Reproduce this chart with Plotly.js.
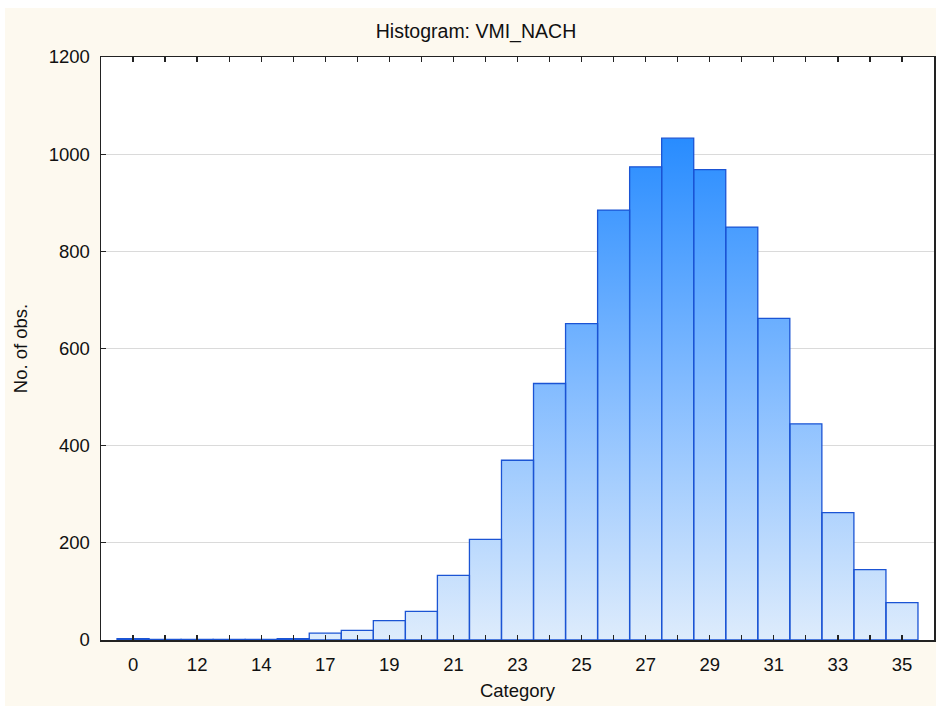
<!DOCTYPE html>
<html>
<head>
<meta charset="utf-8">
<script src="https://cdn.plot.ly/plotly-3.0.1.min.js"></script>
<style>html,body{margin:0;padding:0;background:#fff;}#chart{width:936px;height:706px;}</style>
</head>
<body>
<div id="chart"></div>
<script>
// Categories (bins) of VMI_NACH, in plotted order
const categories = ['0','11','12','13','14','16','17','18','19','20','21','22','23','24','25','26','27','28','29','30','31','32','33','34','35'];
// No. of observations in each category
const counts = [3,1,1,1,1,3,14,20,40,59,133,207,370,528,651,885,974,1033,968,850,662,445,262,145,77];
// Tick labels shown under the axis (every other category)
const tickLabels = categories.map((c, i) => (i % 2 === 0 ? c : ''));
const yTicks = [0,200,400,600,800,1000,1200];

const idx = categories.map((_, i) => i);

// step outline (bin edges) used only to paint the vertical gradient fill
const stepX = idx.map(i => i - 0.5).concat([categories.length - 0.5]);
const stepY = counts.concat([counts[counts.length - 1]]);
const maxCount = Math.max(...counts);

const fillTrace = {
  type: 'scatter', mode: 'lines',
  x: stepX, y: stepY,
  line: {shape: 'hv', width: 0, color: 'rgba(0,0,0,0)'},
  fill: 'tozeroy',
  fillcolor: '#8cc2ff',
  fillgradient: {
    type: 'vertical',
    colorscale: [[0, 'rgb(222,236,252)'], [0.5, 'rgb(132,188,255)'], [1, 'rgb(40,140,255)']],
    start: 0, stop: maxCount
  },
  hoverinfo: 'skip', showlegend: false,
  xaxis: 'x', yaxis: 'y'
};

const barTrace = {
  type: 'bar',
  x: idx, y: counts,
  width: 1,
  textposition: 'none',
  customdata: categories,
  marker: {color: 'rgba(0,0,0,0)', line: {color: '#1b54d4', width: 1.3}},
  hovertemplate: '%{customdata}: %{y}<extra></extra>',
  showlegend: false,
  xaxis: 'x2', yaxis: 'y2'
};

const xRange = [-1, categories.length];
const yRange = [0, 1200];
const font = {family: '"Liberation Sans", Arial, sans-serif', size: 18.5, color: '#111'};

const plotW = 936 - 101 - 2, plotH = 706 - 57 - 66;

const layout = {
  width: 936, height: 706, autosize: false,
  paper_bgcolor: '#fdf9ef', plot_bgcolor: '#ffffff',
  margin: {l: 101, r: 2, t: 57, b: 66, pad: 0},
  font: font,
  showlegend: false,
  bargap: 0,
  title: {text: 'Histogram: VMI_NACH', font: {family: font.family, size: 19.5, color: '#111'},
          x: 476/936, xref: 'container', xanchor: 'center', y: 1 - 31/706, yref: 'container', yanchor: 'middle'},
  xaxis: {
    range: xRange, tickmode: 'array', tickvals: idx, ticktext: tickLabels,
    ticks: 'inside', ticklen: 5, tickwidth: 1.3, tickcolor: '#222',
    showline: true, linecolor: '#222', linewidth: 1.5, mirror: 'ticks',
    showgrid: false, zeroline: false, fixedrange: true,
    tickfont: font, ticklabelstandoff: 7,
    title: {text: 'Category', font: font, standoff: 10}
  },
  yaxis: {
    range: yRange, tickmode: 'array', tickvals: yTicks,
    ticks: 'inside', ticklen: 5, tickwidth: 1.3, tickcolor: '#222',
    showline: true, linecolor: '#222', linewidth: 1.5, mirror: true,
    showgrid: true, gridcolor: '#dadada', gridwidth: 1.2, zeroline: false, fixedrange: true,
    tickfont: font, ticklabelstandoff: 6,
    title: {text: 'No. of obs.', font: font, standoff: 16}
  },
  xaxis2: {overlaying: 'x', range: xRange, visible: false, fixedrange: true},
  yaxis2: {overlaying: 'y', range: yRange, visible: false, fixedrange: true},
  shapes: [
    {type: 'rect', xref: 'paper', yref: 'paper', x0: -0.2, x1: 1.01, y0: 1 + (57 - 8) / plotH, y1: 1.2, fillcolor: '#ffffff', line: {width: 0}, layer: 'below'},
    {type: 'rect', xref: 'paper', yref: 'paper', x0: -0.2, x1: -(101 - 5) / plotW, y0: -0.2, y1: 1.2, fillcolor: '#ffffff', line: {width: 0}, layer: 'below'}
  ]
};

Plotly.newPlot('chart', [fillTrace, barTrace], layout, {displayModeBar: false, staticPlot: true});
</script>
</body>
</html>
